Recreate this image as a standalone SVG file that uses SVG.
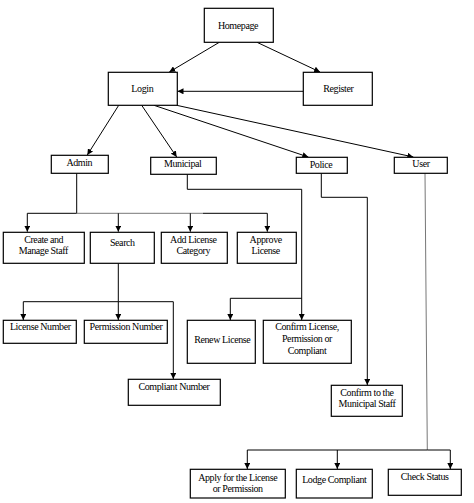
<svg xmlns="http://www.w3.org/2000/svg" width="474" height="503" viewBox="0 0 474 503">
<style>
.box{fill:#fff;stroke:#000;stroke-width:1.2}
text{font-family:"Liberation Serif","Times New Roman",serif;font-size:10px;letter-spacing:-0.4px;fill:#000;text-anchor:middle}
.ln{fill:none;stroke:#000;stroke-width:1}
.gr{fill:none;stroke:#777;stroke-width:1}
</style>
<defs>
<marker id="ah" markerUnits="userSpaceOnUse" markerWidth="7" markerHeight="6" refX="6" refY="3" orient="auto">
<path d="M0,0 L6,3 L0,6 z" fill="#000"/>
</marker>
</defs>
<rect width="474" height="503" fill="#fff"/>
<g id="connectors">
<line class="ln" x1="219.3" y1="42.3" x2="169.3" y2="72" marker-end="url(#ah)"/>
<line class="ln" x1="257" y1="42.3" x2="320" y2="72" marker-end="url(#ah)"/>
<line class="ln" x1="303.3" y1="91.3" x2="177.5" y2="91.3" marker-end="url(#ah)"/>
<line class="ln" x1="118.7" y1="105.3" x2="87.3" y2="155" marker-end="url(#ah)"/>
<line class="ln" x1="141.7" y1="105.3" x2="176.7" y2="157" marker-end="url(#ah)"/>
<line class="ln" x1="154" y1="105.3" x2="308.3" y2="157" marker-end="url(#ah)"/>
<line class="ln" x1="176.7" y1="105.3" x2="413.3" y2="157" marker-end="url(#ah)"/>
<polyline class="ln" points="76.7,173.3 76.7,213.3"/>
<polyline class="ln" points="76.7,213.3 27.3,213.3 27.3,231.7" marker-end="url(#ah)"/>
<line class="gr" x1="76.7" y1="213.3" x2="203" y2="213.3"/>
<polyline class="ln" points="203,213.3 267.3,213.3 267.3,231.7" marker-end="url(#ah)"/>
<line class="ln" x1="118.3" y1="213.3" x2="118.3" y2="231.7" marker-end="url(#ah)"/>
<line class="ln" x1="190.3" y1="213.3" x2="190.3" y2="231.7" marker-end="url(#ah)"/>
<polyline class="ln" points="118.3,263.3 118.3,301.7"/>
<polyline class="ln" points="118.3,301.7 23.3,301.7 23.3,320" marker-end="url(#ah)"/>
<line class="ln" x1="118.3" y1="301.7" x2="118.3" y2="320" marker-end="url(#ah)"/>
<polyline class="ln" points="118.3,301.7 173.3,301.7 173.3,379" marker-end="url(#ah)"/>
<polyline class="ln" points="187.3,174.3 187.3,189.3 301.7,189.3 301.7,320" marker-end="url(#ah)"/>
<polyline class="ln" points="301.7,298.3 230.3,298.3 230.3,320" marker-end="url(#ah)"/>
<polyline class="ln" points="321.3,173.3 321.3,197.3 367.3,197.3 367.3,385" marker-end="url(#ah)"/>
<line class="gr" x1="425" y1="173.3" x2="427.3" y2="450"/>
<polyline class="ln" points="427.3,450 247.3,450 247.3,469" marker-end="url(#ah)"/>
<polyline class="ln" points="427.3,450 450.3,450 450.3,469" marker-end="url(#ah)"/>
<line class="ln" x1="337.3" y1="450" x2="337.3" y2="469" marker-end="url(#ah)"/>
</g>
<g id="homepage"><rect class="box" x="204.3" y="8.3" width="69" height="34"/><text x="238" y="29">Homepage</text></g>
<g id="login"><rect class="box" x="108.3" y="72.3" width="69" height="33"/><text x="142.3" y="92">Login</text></g>
<g id="register"><rect class="box" x="303.3" y="72.3" width="69" height="33"/><text x="338.3" y="92">Register</text></g>
<g id="admin"><rect class="box" x="51.3" y="155.3" width="57" height="18"/><text x="79.3" y="166">Admin</text></g>
<g id="municipal"><rect class="box" x="150.7" y="157.3" width="65.6" height="17"/><text x="182.7" y="167">Municipal</text></g>
<g id="police"><rect class="box" x="296.3" y="157.3" width="51" height="16"/><text x="321" y="168">Police</text></g>
<g id="user"><rect class="box" x="394.3" y="157.3" width="53" height="16"/><text x="421" y="167">User</text></g>
<g id="create-staff"><rect class="box" x="3.3" y="232.3" width="81" height="31"/><text x="43.7" y="243">Create and</text><text x="43.3" y="254">Manage Staff</text></g>
<g id="search"><rect class="box" x="90.3" y="232.3" width="64" height="31"/><text x="122.3" y="245.5">Search</text></g>
<g id="add-license-category"><rect class="box" x="161.3" y="232.3" width="66" height="31"/><text x="193.3" y="243">Add License</text><text x="193.3" y="254">Category</text></g>
<g id="approve-license"><rect class="box" x="237.3" y="232.3" width="59" height="31"/><text x="265.7" y="243">Approve</text><text x="265.7" y="254">License</text></g>
<g id="license-number"><rect class="box" x="3.3" y="320.3" width="73" height="23"/><text x="40.3" y="330">License Number</text></g>
<g id="permission-number"><rect class="box" x="84.3" y="320.3" width="83" height="23"/><text x="126" y="330">Permission Number</text></g>
<g id="compliant-number"><rect class="box" x="128.3" y="379.3" width="92" height="26"/><text x="174" y="389.5">Compliant Number</text></g>
<g id="renew-license"><rect class="box" x="187.3" y="320.3" width="68" height="43"/><text x="222.3" y="343">Renew License</text></g>
<g id="confirm-license"><rect class="box" x="263.3" y="320.3" width="88" height="43"/><text x="307" y="330">Confirm License,</text><text x="307" y="342">Permission or</text><text x="307" y="353.5">Compliant</text></g>
<g id="confirm-municipal-staff"><rect class="box" x="331.3" y="385.3" width="71" height="31"/><text x="367" y="395.5">Confirm to the</text><text x="367" y="406.5">Municipal Staff</text></g>
<g id="apply"><rect class="box" x="190.3" y="469.3" width="95" height="28.7"/><text x="237.7" y="480.5">Apply for the License</text><text x="237.7" y="491.5">or Permission</text></g>
<g id="lodge-compliant"><rect class="box" x="296.3" y="469.3" width="76" height="28.7"/><text x="334.3" y="483">Lodge Compliant</text></g>
<g id="check-status"><rect class="box" x="388.3" y="469.3" width="73" height="26"/><text x="424.7" y="479.5">Check Status</text></g>
</svg>
